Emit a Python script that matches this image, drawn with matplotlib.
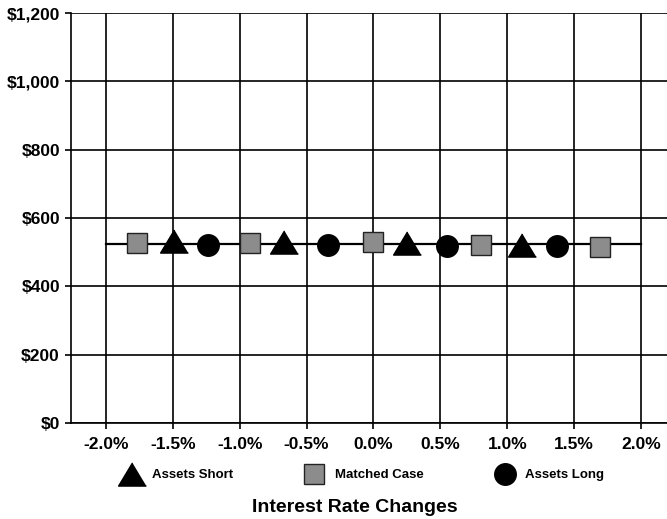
import matplotlib
matplotlib.use("Agg")
import matplotlib.pyplot as plt
from matplotlib.ticker import FuncFormatter

# data
rate_ticks = [-2.0, -1.5, -1.0, -0.5, 0.0, 0.5, 1.0, 1.5, 2.0]
value_ticks = [0, 200, 400, 600, 800, 1000, 1200]

line_x = [-2.0, 2.0]
line_y = [525, 525]

short_x = [-1.49, -0.67, 0.25, 1.11]
short_y = [532, 530, 528, 520]

matched_x = [-1.77, -0.92, 0.0, 0.80, 1.69]
matched_y = [527, 528, 530, 522, 515]

long_x = [-1.24, -0.34, 0.55, 1.37]
long_y = [522, 522, 518, 518]

plt.rcParams['font.family'] = ['Liberation Sans', 'DejaVu Sans']

fig = plt.figure(figsize=(6.67, 5.19), dpi=100)
ax = fig.add_axes([71 / 667, 1 - 423 / 519, 1 - 71 / 667, (423 - 13) / 519])

tri = [(0, 1), (-1.2, -1), (1.2, -1)]

ax.plot(line_x, line_y, color='black', lw=1.6, zorder=3)
ax.plot(short_x, short_y, linestyle='none', marker=tri, ms=20,
        color='black', label='Assets Short', zorder=4)
ax.plot(matched_x, matched_y, linestyle='none', marker='s', ms=15,
        mfc='#8c8c8c', mec='#222222', mew=1.0, label='Matched Case', zorder=4)
ax.plot(long_x, long_y, linestyle='none', marker='o', ms=15.5,
        color='black', label='Assets Long', zorder=4)

ax.set_xlim(-2.261, 2.194)
ax.set_ylim(0, 1200)
ax.set_xticks(rate_ticks)
ax.set_yticks(value_ticks)
ax.xaxis.set_major_formatter(FuncFormatter(lambda v, p: f"{v:.1f}%"))
ax.yaxis.set_major_formatter(FuncFormatter(lambda v, p: f"${v:,.0f}"))
ax.grid(True, color='black', lw=1.2)
ax.set_axisbelow(True)
for s in ['top', 'right']:
    ax.spines[s].set_visible(False)
for s in ['left', 'bottom']:
    ax.spines[s].set_linewidth(1.2)
ax.tick_params(axis='y', length=4, width=1.2, pad=4, labelsize=12.5)
ax.tick_params(axis='x', length=4, width=1.2, pad=6, labelsize=12.5)
for lab in ax.get_xticklabels() + ax.get_yticklabels():
    lab.set_fontweight('bold')

leg = fig.legend(loc='center', ncol=3, frameon=False,
                 bbox_to_anchor=(363 / 667, 1 - 475 / 519),
                 columnspacing=5.4, handletextpad=0.8, handlelength=1.5,
                 prop={'size': 9.5, 'weight': 'bold'})

fig.text(355 / 667, 1 - 507 / 519, "Interest Rate Changes",
         ha='center', va='center', fontsize=14, fontweight='bold')

fig.savefig("out.png", dpi=100)
